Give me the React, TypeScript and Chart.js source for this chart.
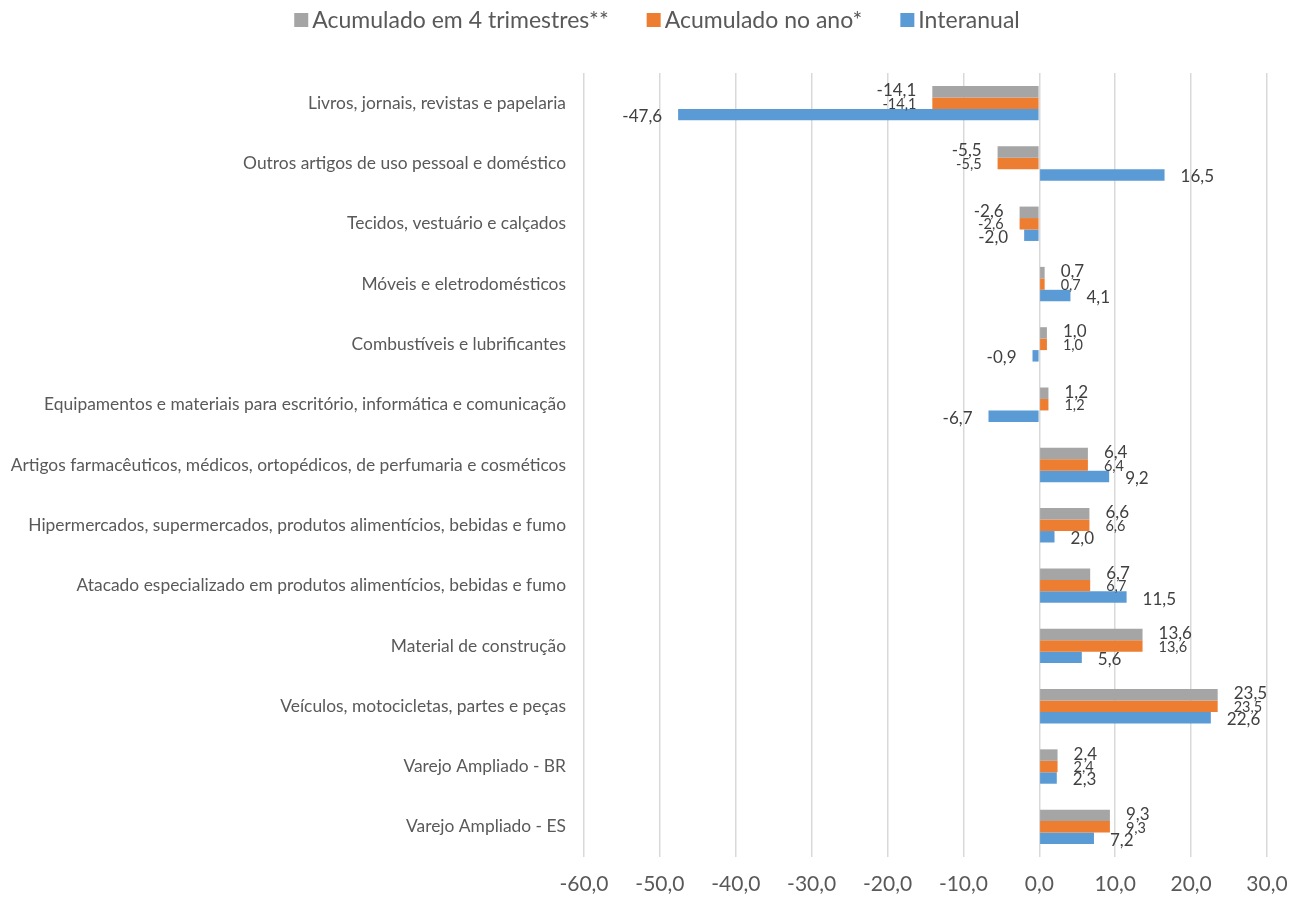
import React, { useEffect, useRef } from "react";
import { Chart, registerables } from "chart.js";

Chart.register(...registerables);

const categories = [
  "Livros, jornais, revistas e papelaria",
  "Outros artigos de uso pessoal e doméstico",
  "Tecidos, vestuário e calçados",
  "Móveis e eletrodomésticos",
  "Combustíveis e lubrificantes",
  "Equipamentos e materiais para escritório, informática e comunicação",
  "Artigos farmacêuticos, médicos, ortopédicos, de perfumaria e cosméticos",
  "Hipermercados, supermercados, produtos alimentícios, bebidas e fumo",
  "Atacado especializado em produtos alimentícios, bebidas e fumo",
  "Material de construção",
  "Veículos, motocicletas, partes e peças",
  "Varejo Ampliado - BR",
  "Varejo Ampliado - ES",
];

const acumulado4Trimestres = [-14.1, -5.5, -2.6, 0.7, 1.0, 1.2, 6.4, 6.6, 6.7, 13.6, 23.5, 2.4, 9.3];
const acumuladoAno = [-14.1, -5.5, -2.6, 0.7, 1.0, 1.2, 6.4, 6.6, 6.7, 13.6, 23.5, 2.4, 9.3];
const interanual = [-47.6, 16.5, -2.0, 4.1, -0.9, -6.7, 9.2, 2.0, 11.5, 5.6, 22.6, 2.3, 7.2];

const seriesNames = ["Acumulado em 4 trimestres**", "Acumulado no ano*", "Interanual"];
const seriesColors = ["#A5A5A5", "#ED7D31", "#5B9BD5"];

const xMin = -60;
const xMax = 30;
const xStep = 10;

const FONT = "Lato, 'Noto Sans', sans-serif";
const fmt = (v: number) => v.toFixed(1).replace(".", ",");

const labelPlugin = {
  id: "barLabels",
  afterDatasetsDraw(chart: any) {
    const ctx = chart.ctx;
    const sizes = [17, 14.5, 17];
    const dys = [-1, 1, 2];
    chart.data.datasets.forEach((ds: any, di: number) => {
      const meta = chart.getDatasetMeta(di);
      meta.data.forEach((el: any, i: number) => {
        const v = ds.data[i];
        const sign = v >= 0 ? 1 : -1;
        ctx.save();
        ctx.font = `${sizes[di]}px ${FONT}`;
        ctx.fillStyle = "#404040";
        ctx.textBaseline = "middle";
        ctx.textAlign = sign > 0 ? "left" : "right";
        ctx.fillText(fmt(v), el.x + sign * 16, el.y + dys[di]);
        ctx.restore();
      });
    });
  },
};

const legendPlugin = {
  id: "customLegend",
  afterDraw(chart: any) {
    const ctx = chart.ctx;
    ctx.save();
    ctx.font = `23px ${FONT}`;
    const box = 14;
    const gapBox = 4;
    const gapItem = 38;
    const widths = seriesNames.map((n) => ctx.measureText(n).width);
    const total = widths.reduce((a, w) => a + box + gapBox + w, 0) + gapItem * (seriesNames.length - 1);
    let x = 657 - total / 2;
    const y = 20;
    seriesNames.forEach((n, i) => {
      ctx.fillStyle = seriesColors[i];
      ctx.fillRect(x, y - box / 2, box, box);
      x += box + gapBox;
      ctx.fillStyle = "#595959";
      ctx.textBaseline = "middle";
      ctx.textAlign = "left";
      ctx.fillText(n, x, y + 1);
      x += widths[i] + gapItem;
    });
    ctx.restore();
  },
};

export default function App() {
  const ref = useRef<HTMLCanvasElement | null>(null);
  useEffect(() => {
    if (!ref.current) return;
    const series = [acumulado4Trimestres, acumuladoAno, interanual];
    const chart = new Chart(ref.current, {
      type: "bar",
      data: {
        labels: categories,
        datasets: series.map((d, i) => ({
          label: seriesNames[i],
          data: d,
          backgroundColor: seriesColors[i],
          borderWidth: 0,
          barPercentage: 1,
          categoryPercentage: 0.57,
        })),
      },
      options: {
        indexAxis: "y",
        animation: false,
        responsive: false,
        maintainAspectRatio: false,
        layout: { padding: { top: 73, right: 31, left: 0, bottom: 0 } },
        plugins: {
          legend: { display: false },
          tooltip: { enabled: false },
        },
        scales: {
          x: {
            min: xMin,
            max: xMax,
            afterFit: (s: any) => {
              s.height = 42;
              s.paddingLeft = 0;
              s.paddingRight = 0;
            },
            ticks: {
              stepSize: xStep,
              padding: 15,
              color: "#595959",
              font: { size: 21, family: FONT },
              callback: (v: any) => fmt(Number(v)),
            },
            grid: { color: "#D9D9D9", lineWidth: 1.5, drawTicks: false },
            border: { display: false },
          },
          y: {
            afterFit: (s: any) => {
              s.width = 584;
            },
            ticks: {
              padding: 18,
              color: "#595959",
              font: { size: 17.4, family: FONT },
            },
            grid: { display: false, drawTicks: false },
            border: { display: false },
          },
        },
      },
      plugins: [labelPlugin, legendPlugin],
    });
    return () => chart.destroy();
  }, []);
  return (
    <div style={{ position: "fixed", left: 0, top: 0, width: 1298, height: 899, background: "#fff" }}>
      <canvas ref={ref} width={1298} height={899} />
    </div>
  );
}
